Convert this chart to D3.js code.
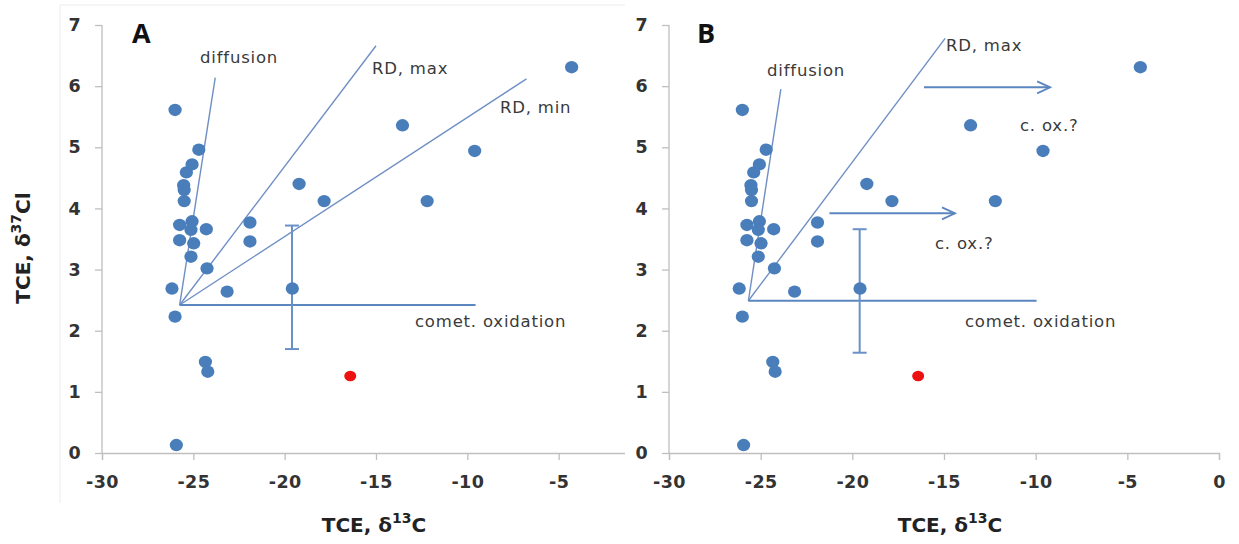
<!DOCTYPE html>
<html><head><meta charset="utf-8">
<script src="https://cdn.jsdelivr.net/npm/d3@7"></script>
<style>body{margin:0;background:#fff;}svg{display:block;}</style>
</head><body>
<svg id="c" width="1239" height="544"></svg>
<script>
// ---- data ----
const d13C  = [-26.0,-24.7,-25.07,-25.38,-25.53,-25.5,-25.5,-25.75,-25.07,-25.13,-24.29,-25.75,-24.98,-25.13,-24.25,-21.9,-21.9,-26.17,-23.15,-19.58,-26.0,-24.34,-24.21,-25.93,-19.21,-17.84,-13.55,-12.2,-9.6,-4.29];
const d37Cl = [5.61,4.96,4.72,4.59,4.38,4.30,4.12,3.73,3.79,3.65,3.66,3.48,3.43,3.21,3.02,3.77,3.46,2.69,2.64,2.69,2.23,1.49,1.33,0.13,4.40,4.12,5.36,4.12,4.94,6.31];
const redX = [-16.41];
const redY = [1.26];
const errX = -19.6;
const errA = [1.70, 3.72];
const errB = [1.64, 3.66];
const yTicks = [0,1,2,3,4,5,6,7];
const xTicksA = [-30,-25,-20,-15,-10,-5];
const xTicksB = [-30,-25,-20,-15,-10,-5,0];
// model lines [x0,y0,x1,y1]
const linesA = {
  diffusion: [-25.75,2.42,-23.8,6.14],
  rdMax: [-25.75,2.42,-15.0,6.66],
  rdMin: [-25.75,2.42,-6.76,6.12],
  comet: [-25.75,2.42,-9.55,2.42]
};
const linesB = {
  diffusion: [-25.67,2.49,-23.9,5.95],
  rdMax: [-25.67,2.49,-14.94,6.78],
  comet: [-25.67,2.49,-9.95,2.49]
};
const arrowsB = [[-16.09,5.98,-9.21,5.98],[-21.25,3.92,-14.4,3.92]];

const svg = d3.select("#c");
const blue = "#4a7ebb", lineBlue = "#6f8fc4", axisGray = "#bfbfbf", txt = "#3a3a3a";
const FONT = "DejaVu Sans, sans-serif";

function panel(g, left, right, xTicks, lines, errRange, labels, letter, letterX, titleX, arrows, bg){
  const x = d3.scaleLinear().domain([-30,0]).range([left,right]);
  const y = d3.scaleLinear().domain([0,7]).range([453,25]);
  if(bg){ g.append("rect").attr("x",bg[0]).attr("y",0).attr("width",bg[1]).attr("height",544).attr("fill","#fff"); }
  const ya = g.append("g").attr("transform",`translate(${left},0)`)
    .call(d3.axisLeft(y).tickValues(yTicks).tickSize(7).tickPadding(14).tickFormat(d3.format("d")));
  const xa = g.append("g").attr("transform",`translate(0,453)`)
    .call(d3.axisBottom(x).tickValues(xTicks).tickSize(7).tickPadding(16).tickFormat(d=>String(d)));
  [ya,xa].forEach(a=>{
    a.selectAll("path,line").attr("stroke",axisGray).attr("stroke-width",1.3);
    a.selectAll("text").attr("fill","#333").attr("font-family",FONT).attr("font-weight","bold").attr("font-size","17.5px").attr("letter-spacing","0.4px");
  });
  ya.select(".domain").attr("d",`M0,${y(7)}V${y(0)}`);
  const L = (k,c,w)=>{ const v=lines[k]; if(!v) return;
    g.append("line").attr("x1",x(v[0])).attr("y1",y(v[1])).attr("x2",x(v[2])).attr("y2",y(v[3]))
      .attr("stroke",c).attr("stroke-width",w); };
  L("diffusion",lineBlue,1.4); L("rdMax",lineBlue,1.4); L("rdMin",lineBlue,1.4); L("comet","#5b86c0",2);
  g.append("line").attr("x1",x(errX)).attr("x2",x(errX)).attr("y1",y(errRange[0])).attr("y2",y(errRange[1])).attr("stroke","#6a90c8").attr("stroke-width",2);
  [0,1].forEach(i=>g.append("line").attr("x1",x(errX)-7).attr("x2",x(errX)+7).attr("y1",y(errRange[i])).attr("y2",y(errRange[i])).attr("stroke","#6a90c8").attr("stroke-width",2));
  (arrows||[]).forEach(a=>{
    const x2=x(a[2]), yy=y(a[3]);
    g.append("line").attr("x1",x(a[0])).attr("y1",y(a[1])).attr("x2",x2).attr("y2",yy).attr("stroke","#5b86c0").attr("stroke-width",2);
    g.append("path").attr("d",`M${x2-13},${yy-6}L${x2},${yy}L${x2-13},${yy+6}`).attr("fill","none").attr("stroke","#5b86c0").attr("stroke-width",1.8);
  });
  g.selectAll("ellipse.p").data(d13C.map((v,i)=>[v,d37Cl[i]])).join("ellipse").attr("class","p")
    .attr("cx",d=>x(d[0])).attr("cy",d=>y(d[1])).attr("rx",6.6).attr("ry",6.2).attr("fill",blue);
  g.selectAll("ellipse.r").data(redX.map((v,i)=>[v,redY[i]])).join("ellipse").attr("class","r")
    .attr("cx",d=>x(d[0])).attr("cy",d=>y(d[1])).attr("rx",6).attr("ry",5.2).attr("fill","#ee1111");
  labels.forEach(l=>g.append("text").attr("x",l[0]).attr("y",l[1]).attr("text-anchor","start").attr("dominant-baseline","central")
    .attr("font-family",FONT).attr("font-size","16.5px").attr("fill",txt).attr("letter-spacing","0.8px").text(l[2]));
  g.append("text").attr("x",letterX).attr("y",32).attr("dominant-baseline","central").attr("font-family","Open Sans, sans-serif")
    .attr("font-weight","bold").attr("font-size","27px").attr("fill","#111").text(letter);
  const t = g.append("text").attr("x",titleX).attr("y",525).attr("text-anchor","middle").attr("dominant-baseline","central")
    .attr("font-family",FONT).attr("font-weight","bold").attr("font-size","20px").attr("fill","#222");
  t.append("tspan").text("TCE, δ");
  t.append("tspan").attr("font-size","14px").attr("dy","-7").text("13");
  t.append("tspan").attr("dy","7").text("C");
}

svg.append("line").attr("x1",60).attr("x2",1239).attr("y1",5).attr("y2",5).attr("stroke","#ececec");
svg.append("line").attr("x1",60).attr("x2",60).attr("y1",5).attr("y2",503).attr("stroke","#ececec");

panel(svg.append("g"),102,650,xTicksA,linesA,errA,
  [[200,57,"diffusion"],[372,68,"RD, max"],[500,107,"RD, min"],[415,321,"comet. oxidation"]],
  "A",132,374,null,null);
panel(svg.append("g"),669,1219,xTicksB,linesB,errB,
  [[767,70,"diffusion"],[946,45,"RD, max"],[1020,125,"c. ox.?"],[935,243,"c. ox.?"],[965,321,"comet. oxidation"]],
  "B",697,950,arrowsB,[625,614]);

const yt = svg.append("text").attr("transform","translate(23,248) rotate(-90)").attr("text-anchor","middle").attr("dominant-baseline","central")
  .attr("font-family",FONT).attr("font-weight","bold").attr("font-size","20px").attr("fill","#222");
yt.append("tspan").text("TCE, δ");
yt.append("tspan").attr("font-size","14px").attr("dy","-7").text("37");
yt.append("tspan").attr("dy","7").text("Cl");
</script>
</body></html>
